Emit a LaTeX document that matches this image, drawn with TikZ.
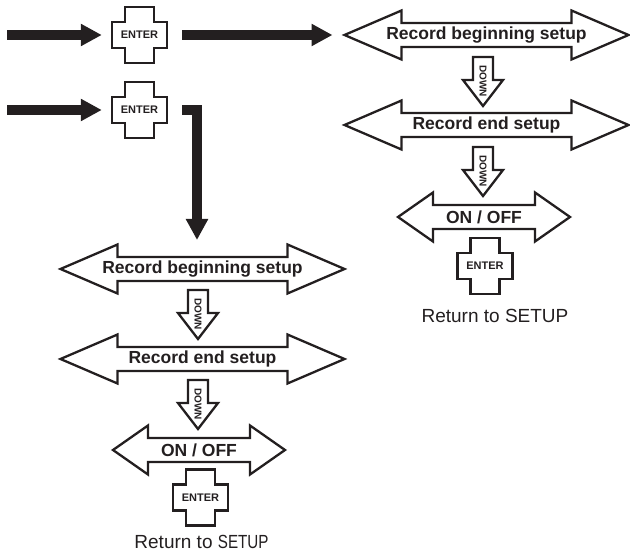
\documentclass[tikz,border=0pt]{standalone}
\usepackage{fontspec}
\setmainfont{Liberation Sans}
\usetikzlibrary{arrows.meta,calc}
\definecolor{ink}{HTML}{231F20}

% menu item: name, position, half length, head length, text
\newcommand\menuarrow[5]{%
  \node[menutext] (#1) at (#2) {#5};
  \begin{scope}[shift={(#1.center)}]
  \draw[outline] (-#3,0) coordinate (#1-w) -- (-#3+#4,-24.5) -- (-#3+#4,-12) -- (#3-#4,-12)
    -- (#3-#4,-24.5) -- (#3,0) -- (#3-#4,24.5) -- (#3-#4,12) -- (-#3+#4,12) -- (-#3+#4,24.5) -- cycle;
  \end{scope}}
% DOWN key: name, position
\newcommand\downkey[2]{%
  \node[downtext] (#1) at (#2) {DOWN};
  \begin{scope}[shift={(#1.center)}]
  \draw[outline] (-10,-24) -- (10,-24) -- (10,-1) -- (20,-1) -- (0,25) -- (-20,-1) -- (-10,-1) -- cycle;
  \end{scope}}
% ENTER key: name, position
\newcommand\enterkey[2]{%
  \node[keytext] (#1) at (#2) {ENTER};
  \begin{scope}[shift={(#1.center)}]
  \draw[keyline] (-14.5,-28) -- (14.5,-28) -- (14.5,-13) -- (27.5,-13) -- (27.5,13) -- (14.5,13)
    -- (14.5,28) -- (-14.5,28) -- (-14.5,13) -- (-27.5,13) -- (-27.5,-13) -- (-14.5,-13) -- cycle;
  \end{scope}}

\begin{document}
\begin{tikzpicture}[x=1pt,y=-1pt,
  menutext/.style={font=\bfseries\fontsize{17.5}{20}\selectfont,text=ink,inner sep=0pt},
  downtext/.style={font=\bfseries\fontsize{10}{12}\selectfont,text=ink,rotate=-90,inner sep=0pt},
  keytext/.style={font=\bfseries\fontsize{11}{12}\selectfont,text=ink,minimum width=55pt,minimum height=56pt,inner sep=0pt},
  outline/.style={draw=ink,line width=2.3pt,line join=miter},
  keyline/.style={draw=ink,line width=2.6pt},
  flow/.style={draw=ink,line width=9.5pt,-{Triangle[length=21pt,width=21pt]}},
  back/.style={font=\fontsize{19}{22}\selectfont,text=ink}]
\useasboundingbox (0,0) rectangle (630,553);
%inputs
\coordinate (in1) at (7,35);
\coordinate (in2) at (7,110);
\enterkey{key1}{139.5,35}
\enterkey{key2}{139.5,110}
\draw[flow,shorten >=10pt] (in1) -- (key1.west);
\draw[flow,shorten >=10pt] (in2) -- (key2.west);
%right column
\menuarrow{recA}{486.5,35}{142}{57}{Record beginning setup}
\downkey{downA}{483,81}
\menuarrow{recB}{486.5,125}{142}{57}{Record end setup}
\downkey{downB}{483,171}
\menuarrow{onoffA}{484,217}{86}{35}{ON / OFF}
\enterkey{key3}{485,266}
\node[back] (backA) at (495,316) {Return to SETUP};
\draw[flow,shorten <=15pt,shorten >=12pt] (key1.east) -- (recA-w);
%left column
\coordinate (drop) at (197,240);
\draw[flow,line join=miter,shorten <=15pt] (key2.east) -| (drop);
\menuarrow{recC}{202.5,269}{142}{57}{Record beginning setup}
\downkey{downC}{198,314}
\menuarrow{recD}{202.5,359}{142}{57}{Record end setup}
\downkey{downD}{198,404}
\menuarrow{onoffB}{199,450}{86}{35}{ON / OFF}
\enterkey{key4}{200.5,497.5}
\node[back] (backB) at (201.5,542) {Return to \scalebox{0.8}[1]{SETUP}};
\end{tikzpicture}
\end{document}
